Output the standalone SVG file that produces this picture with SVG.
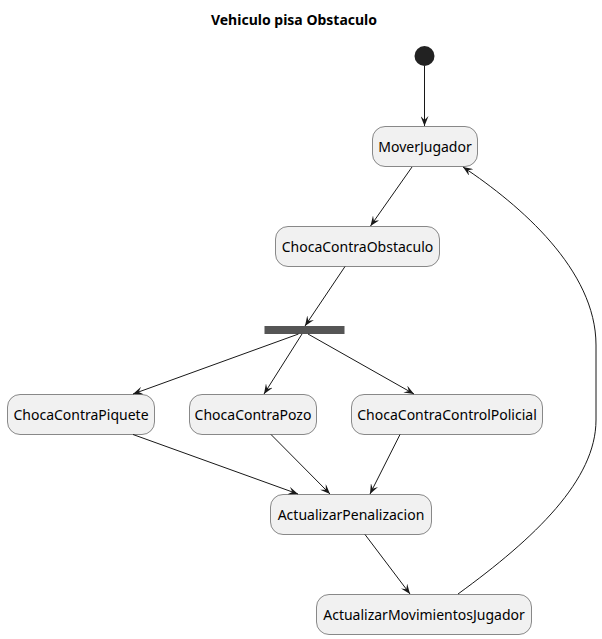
<svg xmlns="http://www.w3.org/2000/svg" width="602" height="639" viewBox="0 0 602 639">
  <style>
    .node rect { fill: #F1F1F1; stroke: #181818; stroke-width: 0.5; }
    .node text { font-family: "Noto Sans", "Open Sans", sans-serif; font-size: 14px; fill: #000000; text-anchor: middle; }
    .title { font-family: "Noto Sans", "Open Sans", sans-serif; font-size: 14px; font-weight: bold; fill: #000000; text-anchor: middle; }
    .edge { fill: none; stroke: #181818; stroke-width: 1; marker-end: url(#arrow); }
  </style>
  <defs>
    <marker id="arrow" viewBox="0 0 10 8" markerWidth="10" markerHeight="8" refX="10" refY="4" orient="auto" markerUnits="userSpaceOnUse">
      <path d="M0,0 L10,4 L0,8 L4,4 Z" fill="#181818"/>
    </marker>
  </defs>
  <rect width="602" height="639" fill="#FFFFFF"/>

  <text class="title" x="294" y="25">Vehiculo pisa Obstaculo</text>

  <g id="start">
    <circle cx="424.5" cy="56" r="10" fill="#222222"/>
  </g>

  <g id="moverJugador" class="node">
    <rect x="372.5" y="126.5" width="105" height="40" rx="12.5"/>
    <text x="425" y="152">MoverJugador</text>
  </g>

  <g id="chocaContraObstaculo" class="node">
    <rect x="275.5" y="226.5" width="164" height="40" rx="12.5"/>
    <text x="357.5" y="252">ChocaContraObstaculo</text>
  </g>

  <g id="fork">
    <rect x="264.5" y="326" width="80" height="8" fill="#555555"/>
  </g>

  <g id="chocaContraPiquete" class="node">
    <rect x="7.5" y="394.5" width="147" height="40" rx="12.5"/>
    <text x="81" y="420">ChocaContraPiquete</text>
  </g>

  <g id="chocaContraPozo" class="node">
    <rect x="189.5" y="394.5" width="127" height="40" rx="12.5"/>
    <text x="253" y="420">ChocaContraPozo</text>
  </g>

  <g id="chocaContraControlPolicial" class="node">
    <rect x="351.5" y="394.5" width="191" height="40" rx="12.5"/>
    <text x="447" y="420">ChocaContraControlPolicial</text>
  </g>

  <g id="actualizarPenalizacion" class="node">
    <rect x="270.5" y="494.5" width="161" height="40" rx="12.5"/>
    <text x="351" y="520">ActualizarPenalizacion</text>
  </g>

  <g id="actualizarMovimientosJugador" class="node">
    <rect x="316.5" y="594.5" width="215" height="40" rx="12.5"/>
    <text x="424" y="620">ActualizarMovimientosJugador</text>
  </g>

  <g id="connectors">
    <path class="edge" d="M424.5,66 L424.5,126"/>
    <path class="edge" d="M412,167 L370.5,226"/>
    <path class="edge" d="M345,266.5 L305,326"/>
    <path class="edge" d="M298.5,334 L133,394"/>
    <path class="edge" d="M302,334 L264,394"/>
    <path class="edge" d="M308,334 L414,394"/>
    <path class="edge" d="M133,434.5 L298,494"/>
    <path class="edge" d="M271,434.5 L330,494"/>
    <path class="edge" d="M400,434.5 L370,494"/>
    <path class="edge" d="M365,534.5 L410,594"/>
    <path class="edge" d="M458,594 C535,538 596,480 596,420 L596,345 C596,270 520,205 463,167"/>
  </g>
</svg>
